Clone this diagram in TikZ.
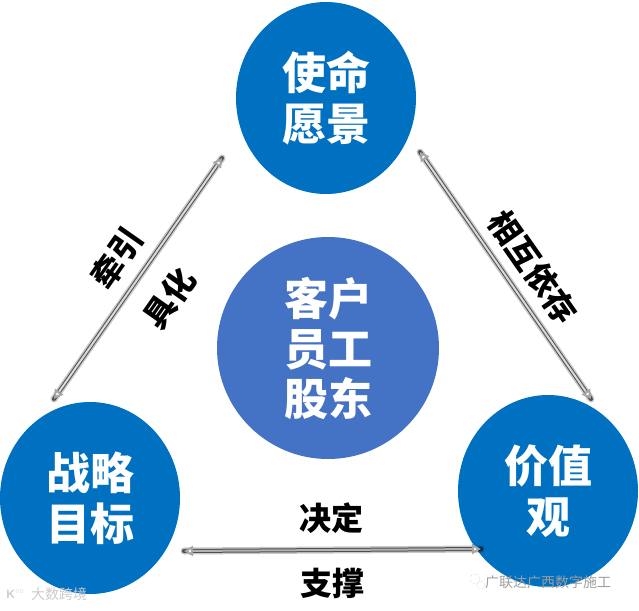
\documentclass[tikz,border=0pt]{standalone}
\usepackage{fontspec}
\newfontfamily\cjk{Noto Sans CJK SC}
\usetikzlibrary{arrows.meta,shapes.geometric}
\definecolor{outerblue}{HTML}{0070C0}
\definecolor{innerblue}{HTML}{4472C4}
\begin{document}
\begin{tikzpicture}[x=1pt,y=-1pt,
  outerc/.style={ellipse, fill=outerblue, minimum width=180pt, minimum height=192pt, inner sep=0pt,
    text=white, align=center, font=\cjk\bfseries\fontsize{44}{51}\selectfont},
  innerc/.style={circle, fill=innerblue, minimum size=222pt, inner sep=0pt,
    text=white, align=center, font=\cjk\bfseries\fontsize{44}{50}\selectfont},
  lab/.style={font=\cjk\bfseries\fontsize{32}{36}\selectfont, text=black, inner sep=0pt},
  shadowA/.style={line width=7pt, black, opacity=0.22, line cap=round},
  shadowB/.style={line width=4pt, black, opacity=0.6, line cap=round},
  conn/.style={line width=2pt, gray!30, {Triangle[width=10pt,length=9pt,color=gray!70,fill=white]}-{Triangle[width=10pt,length=9pt,color=gray!70,fill=white]}},
  wm/.style={font=\cjk\fontsize{14}{16}\selectfont, inner sep=0pt, anchor=west}
]
\useasboundingbox (0,0) rectangle (639,610);
\fill[white] (0,0) rectangle (639,610);

% circles
\node[outerc] (mission) at (326,98) {使命\\愿景};
\node[outerc] (goal) at (90,498) {战略\\目标};
\node[outerc] (value) at (548,491) {价值\\观};
\node[innerc] (people) at (328,348) {客户\\员工\\股东};

% connector end points
\coordinate (l1) at (222,158);
\coordinate (l2) at (54,399);
\coordinate (r1) at (420,152);
\coordinate (r2) at (591,399);
\coordinate (b1) at (184,551);
\coordinate (b2) at (481,549);

% shadows
\begin{scope}[shift={(2,2)}]
\draw[shadowA] (l1) -- (l2);
\draw[shadowA] (r1) -- (r2);
\draw[shadowA] (b1) -- (b2);
\end{scope}
\begin{scope}[shift={(1.5,1.8)}]
\draw[shadowB] (l1) -- (l2);
\draw[shadowB] (r1) -- (r2);
\draw[shadowB] (b1) -- (b2);
\end{scope}
% connectors
\draw[conn] (l1) -- (l2);
\draw[conn] (r1) -- (r2);
\draw[conn, gray!60] (b1) -- (b2);

% labels
\node[lab, rotate=55] (qianyin) at (117,258) {牵引};
\node[lab, rotate=55] (juhua) at (169,298) {具化};
\node[lab, rotate=-55] (yicun) at (533,267) {相互依存};
\node[lab] (jueding) at (331,518) {决定};
\node[lab] (zhicheng) at (332,583) {支撑};

% watermarks
\node[wm, text=gray!40] (wm1) at (31,594) {大数跨境};
\node[font=\sffamily\bfseries\fontsize{12}{13}\selectfont, text=gray!40, inner sep=0pt, anchor=west] (wmicon1) at (6,594) {K$^{\circ\circ}$};
\node[wm, text=gray!75] (wm2) at (485,582) {广联达广西数字施工};
\draw[gray!50, densely dotted] (475,579) circle (5pt);
\draw[gray!50, densely dotted] (481,585) circle (4pt);
\end{tikzpicture}
\end{document}
